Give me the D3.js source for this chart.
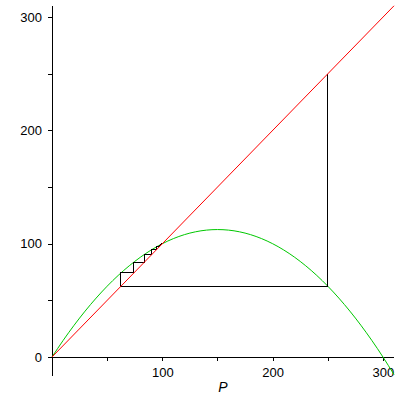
<!DOCTYPE html>
<html>
<head>
<meta charset="utf-8">
<script src="https://cdn.jsdelivr.net/npm/d3@7"></script>
<style>
  body { margin: 0; background: #fff; }
  svg { display: block; }
  .tick text { font-family: "Liberation Sans", Arial, sans-serif; font-size: 13px; fill: #000; }
</style>
</head>
<body>
<div id="chart"></div>
<script>
// green curve: growth map sampled every 10 units of P
var curveP = [0,10,20,30,40,50,60,70,80,90,100,110,120,130,140,150,160,170,180,190,200,210,220,230,240,250,260,270,280,290,300,310];
var curveF = [0,14.5,28,40.5,52,62.5,72,80.5,88,94.5,100,104.5,108,110.5,112,112.5,112,110.5,108,104.5,100,94.5,88,80.5,72,62.5,52,40.5,28,14.5,0,-15.5];
// red diagonal P(n+1) = P(n)
var diagP = [0, 310];
// cobweb iterates starting at 250
var cobweb = [250, 62.5, 74.2, 83.8, 90.6, 94.8, 97.3, 98.6, 99.3, 99.6, 99.8];
var tickVals = [0, 50, 100, 150, 200, 250, 300];
var tickLabels = ["0", "", "100", "", "200", "", "300"];

var W = 400, H = 400;
var svg = d3.select("#chart").append("svg")
  .attr("width", W).attr("height", H);

var x = d3.scaleLinear().domain([0, 310]).range([52, 394]);
var y = d3.scaleLinear().domain([0, 310]).range([357, 5.8]);

// axes lines
svg.append("line")
  .attr("x1", x(0)).attr("x2", x(310)).attr("y1", y(0)).attr("y2", y(0))
  .attr("stroke", "#000").attr("shape-rendering", "crispEdges");
svg.append("line")
  .attr("x1", x(0)).attr("x2", x(0)).attr("y1", y(-16.5)).attr("y2", y(310))
  .attr("stroke", "#000").attr("shape-rendering", "crispEdges");

var fmt = function(d, i) { return tickLabels[i]; };

var gx = svg.append("g")
  .attr("transform", "translate(0," + y(0) + ")")
  .call(d3.axisBottom(x).tickValues(tickVals).tickFormat(fmt).tickSize(4).tickPadding(7).tickSizeOuter(0));
gx.select(".domain").remove();
gx.selectAll(".tick line").attr("shape-rendering", "crispEdges");
gx.selectAll(".tick").filter(function(d) { return d === 0; }).select("text").remove();

var gy = svg.append("g")
  .attr("transform", "translate(" + x(0) + ",0)")
  .call(d3.axisLeft(y).tickValues(tickVals).tickFormat(fmt).tickSize(4).tickPadding(6).tickSizeOuter(0));
gy.select(".domain").remove();
gy.selectAll(".tick line").attr("shape-rendering", "crispEdges");

// axis title
svg.append("text")
  .attr("x", x(155)).attr("y", 392)
  .attr("text-anchor", "middle")
  .attr("font-family", "Liberation Sans, Arial, sans-serif")
  .attr("font-style", "italic")
  .attr("font-size", 14)
  .text("P");

var line = d3.line().x(function(d) { return x(d[0]); }).y(function(d) { return y(d[1]); });

// green parabola
svg.append("path")
  .datum(d3.zip(curveP, curveF))
  .attr("d", line.curve(d3.curveNatural))
  .attr("fill", "none").attr("stroke", "#00c800").attr("stroke-width", 1);

// cobweb path
var web = [[cobweb[0], cobweb[0]]];
for (var i = 1; i < cobweb.length; i++) {
  web.push([cobweb[i - 1], cobweb[i]]);
  web.push([cobweb[i], cobweb[i]]);
}
svg.append("path")
  .datum(web)
  .attr("d", line.curve(d3.curveLinear))
  .attr("fill", "none").attr("stroke", "#000").attr("stroke-width", 1)
  .attr("shape-rendering", "crispEdges");

// red diagonal
svg.append("path")
  .datum(diagP.map(function(p) { return [p, p]; }))
  .attr("d", line.curve(d3.curveLinear))
  .attr("fill", "none").attr("stroke", "#ff0000").attr("stroke-width", 1);
</script>
</body>
</html>
